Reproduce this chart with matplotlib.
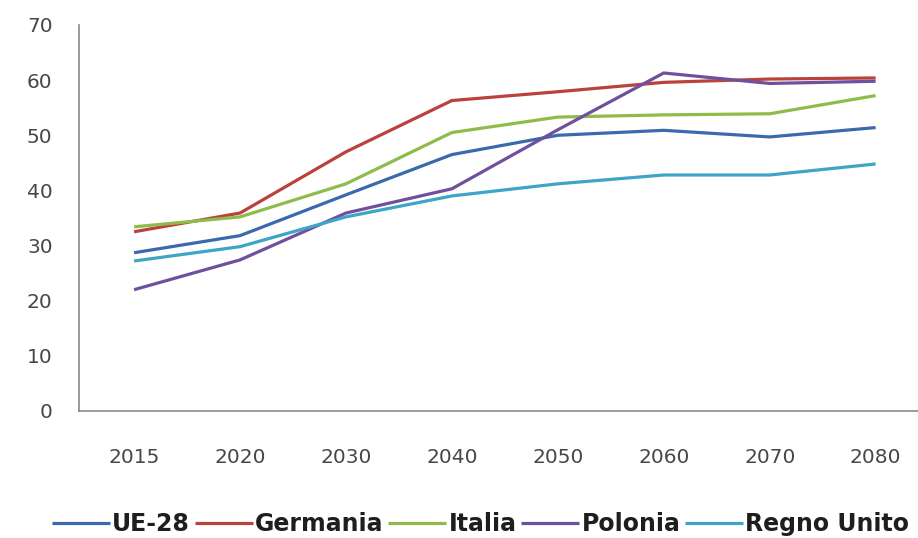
import matplotlib
matplotlib.use('Agg')
import matplotlib.pyplot as plt

# valori
ANNI = ['2015', '2020', '2030', '2040', '2050', '2060', '2070', '2080']
UE28 = [28.7, 31.8, 39.2, 46.5, 50.0, 50.9, 49.7, 51.4]
GERMANIA = [32.5, 35.9, 47.0, 56.3, 57.9, 59.6, 60.2, 60.4]
ITALIA = [33.4, 35.2, 41.2, 50.5, 53.3, 53.7, 53.9, 57.2]
POLONIA = [22.0, 27.4, 35.9, 40.3, 51.0, 61.3, 59.4, 59.8]
REGNO_UNITO = [27.2, 29.8, 35.2, 39.0, 41.2, 42.8, 42.8, 44.8]

SERIE = [('UE-28', UE28, '#3B69AD'),
         ('Germania', GERMANIA, '#BA423D'),
         ('Italia', ITALIA, '#8FBB4A'),
         ('Polonia', POLONIA, '#70509E'),
         ('Regno Unito', REGNO_UNITO, '#3DA5C6')]

plt.rcParams['font.family'] = ['DejaVu Sans']

fig = plt.figure(figsize=(9.18, 5.38), dpi=100)
ax = fig.add_axes([79/918, 127/538, (918-79)/918, 386/538])

x = range(len(ANNI))
for nome, val, col in SERIE:
    ax.plot(x, val, color=col, lw=2.3, label=nome, solid_capstyle='butt')

ax.set_xlim(-0.52, 7.40)
ax.set_ylim(0, 70)
ax.set_yticks(range(0, 71, 10))
ax.set_xticks(list(x))
ax.set_xticklabels(ANNI)
ax.tick_params(length=0, labelsize=14.5, colors='#474747')
ax.tick_params(axis='x', pad=26.5)
ax.tick_params(axis='y', pad=19)
for s in ['top', 'right']:
    ax.spines[s].set_visible(False)
for s in ['left', 'bottom']:
    ax.spines[s].set_color('#8a8a8a')
    ax.spines[s].set_linewidth(1.2)

leg = fig.legend(loc='center left', bbox_to_anchor=(52/918, 1 - 524/538), ncol=5,
                 frameon=False, handlelength=2.45, handletextpad=0.1,
                 columnspacing=0.2, borderaxespad=0, borderpad=0,
                 prop={'weight': 'bold', 'size': 17})
for t in leg.get_texts():
    t.set_color('#1e1e1e')

fig.savefig('out.png', dpi=100)
